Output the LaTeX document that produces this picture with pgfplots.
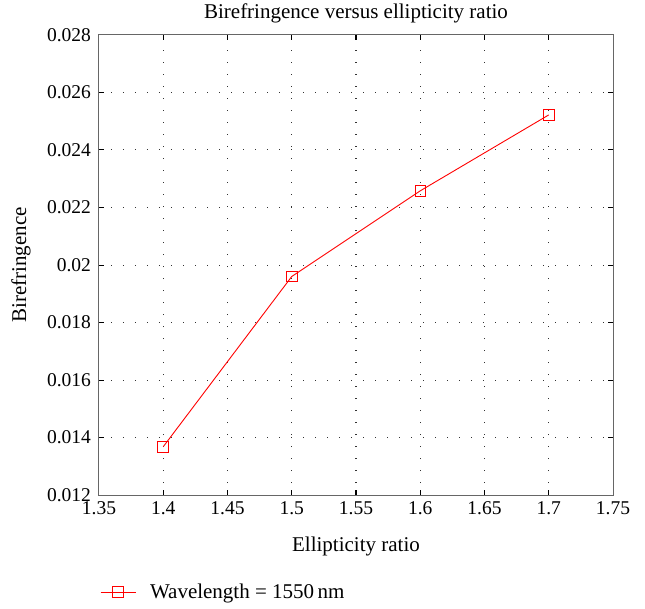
\documentclass[border=0pt]{standalone}
\usepackage{fontspec}
\setmainfont{Liberation Serif}
\usepackage{pgfplots}
\pgfplotsset{compat=1.18}
\begin{document}
\begin{tikzpicture}
\useasboundingbox (-99pt,-113pt) rectangle (546pt,495pt);
\begin{axis}[
  at={(0,0)}, anchor=south west,
  scale only axis,
  width=514pt, height=460pt,
  xmin=1.35, xmax=1.75, ymin=0.012, ymax=0.028,
  xtick={1.35,1.4,...,1.75},
  ytick={0.012,0.014,...,0.028},
  xticklabels={1.35,1.4,1.45,1.5,1.55,1.6,1.65,1.7,1.75},
  yticklabels={0.012,0.014,0.016,0.018,0.02,0.022,0.024,0.026,0.028},
  scaled y ticks=false,
  /pgf/number format/assume math mode=true,
  tick align=inside,
  major tick length=5pt,
  grid=major,
  grid style={black!80, line width=1pt, dash pattern=on 1pt off 11pt},
  axis line style={black!60, line width=1pt},
  tick style={black, line width=1pt},
  ticklabel style={font=\fontsize{19.5}{22}\selectfont},
  yticklabel style={xshift=-4.5pt},
  xticklabel style={yshift=-3.5pt},
  label style={font=\fontsize{21}{24}\selectfont},
  title style={font=\fontsize{21}{24}\selectfont, at={(axis description cs:0.5,1)}, anchor=center, yshift=16pt},
  title={Birefringence versus ellipticity ratio},
  xlabel={Ellipticity ratio},
  ylabel={Birefringence},
  xlabel style={at={(axis description cs:0.5,0)}, anchor=center, yshift=-51pt},
  ylabel style={at={(axis description cs:-0.152,0.5)}, anchor=center},
  legend style={at={(axis description cs:-0.004,-0.211)}, anchor=west, draw=none, fill=none, font=\fontsize{21}{24}\selectfont, legend cell align=left, /tikz/every odd column/.append style={column sep=12pt}},
  legend image code/.code={\draw[mark repeat=2,mark phase=2] plot coordinates {(0pt,0pt)(17.5pt,0pt)(35pt,0pt)};},
]
\addplot[red, line width=0.9pt, mark=square, mark size=5.3pt, mark options={solid, line width=0.9pt}]
  coordinates {(1.4,0.01368) (1.5,0.0196) (1.6,0.02258) (1.7,0.02522)};
\addlegendentry{Wavelength = 1550\,nm}
\end{axis}
\end{tikzpicture}
\end{document}
